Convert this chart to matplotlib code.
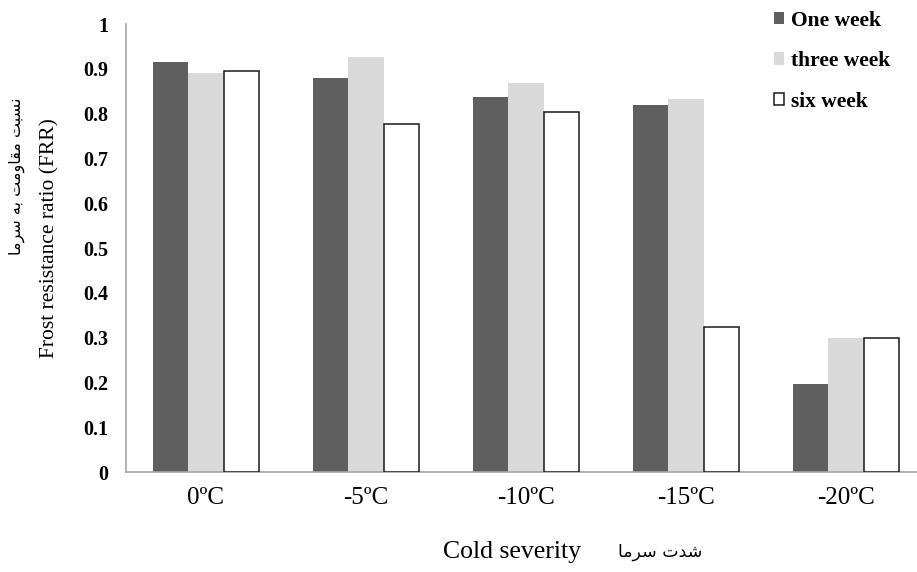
import numpy as np
import matplotlib
matplotlib.use('Agg')
import matplotlib.pyplot as plt

# data
categories = ['0ºC', '-5ºC', '-10ºC', '-15ºC', '-20ºC']
one_week = [0.916, 0.879, 0.838, 0.820, 0.196]
three_week = [0.890, 0.926, 0.868, 0.833, 0.300]
six_week = [0.896, 0.777, 0.804, 0.324, 0.298]
series_names = ['One week', 'three week', 'six week']
yticks = [0, 0.1, 0.2, 0.3, 0.4, 0.5, 0.6, 0.7, 0.8, 0.9, 1]
ytick_labels = ['0', '0.1', '0.2', '0.3', '0.4', '0.5', '0.6', '0.7', '0.8', '0.9', '1']

# Persian labels written in visual order with presentation forms (no shaping in matplotlib)
fa_ylabel = ('\uFE8E\uFEE3\uFEAE\uFEB3 \uFEEA\uFE91 '
             '\uFE96\uFEE3\uFEED\uFE8E\uFED8\uFEE3 \uFE96\uFE92\uFEB4\uFEE7')
fa_xlabel = '\uFE8E\uFEE3\uFEAE\uFEB3 \uFE95\uFEAA\uFEB7'

serif = ['Liberation Serif', 'DejaVu Serif']

fig = plt.figure(figsize=(9.17, 5.72), dpi=100)
ax = fig.add_axes([126 / 917, 1 - 472 / 572, 800 / 917, 448 / 572])

x = np.arange(len(categories))
w = 0.22
ax.bar(x - w, one_week, w, color='#5f5f5f', label=series_names[0], zorder=2)
ax.bar(x, three_week, w, color='#d9d9d9', label=series_names[1], zorder=2)
ax.bar(x + w, six_week, w, color='white', edgecolor='#1a1a1a', linewidth=1.1,
       label=series_names[2], zorder=3)

ax.set_xlim(-0.5, 4.5)
ax.set_ylim(0, 1)
ax.set_xticks(x)
ax.set_xticklabels(categories, fontfamily=serif, fontsize=18)
ax.set_yticks(yticks)
ax.set_yticklabels(ytick_labels, fontfamily=serif, fontsize=14.5, fontweight='bold')
ax.tick_params(axis='both', length=0)
ax.tick_params(axis='x', pad=11)
ax.tick_params(axis='y', pad=13)

for s in ['top', 'right']:
    ax.spines[s].set_visible(False)
for s in ['left', 'bottom']:
    ax.spines[s].set_color('#a6a6a6')
    ax.spines[s].set_linewidth(1.2)

leg = fig.legend(loc='upper left', bbox_to_anchor=(765 / 917, 1 - 2 / 572),
                 frameon=False, prop={'family': serif, 'weight': 'bold', 'size': 15.5},
                 handlelength=0.5, handleheight=0.5, handletextpad=0.3,
                 labelspacing=0.95, borderaxespad=0)

# axis titles
fig.text(50 / 917, 1 - 238 / 572, 'Frost resistance ratio (FRR)', rotation=90,
         ha='center', va='center', fontfamily=serif, fontsize=15.5)
fig.text(17 / 917, 1 - 176 / 572, fa_ylabel, rotation=90,
         ha='center', va='center', fontfamily='DejaVu Sans', fontsize=11.5)
fig.text(512 / 917, 1 - 552 / 572, 'Cold severity', ha='center', va='center',
         fontfamily=serif, fontsize=18.5)
fig.text(660 / 917, 1 - 552 / 572, fa_xlabel, ha='center', va='center',
         fontfamily='DejaVu Sans', fontsize=12.5)

fig.savefig('out.png', dpi=100)
